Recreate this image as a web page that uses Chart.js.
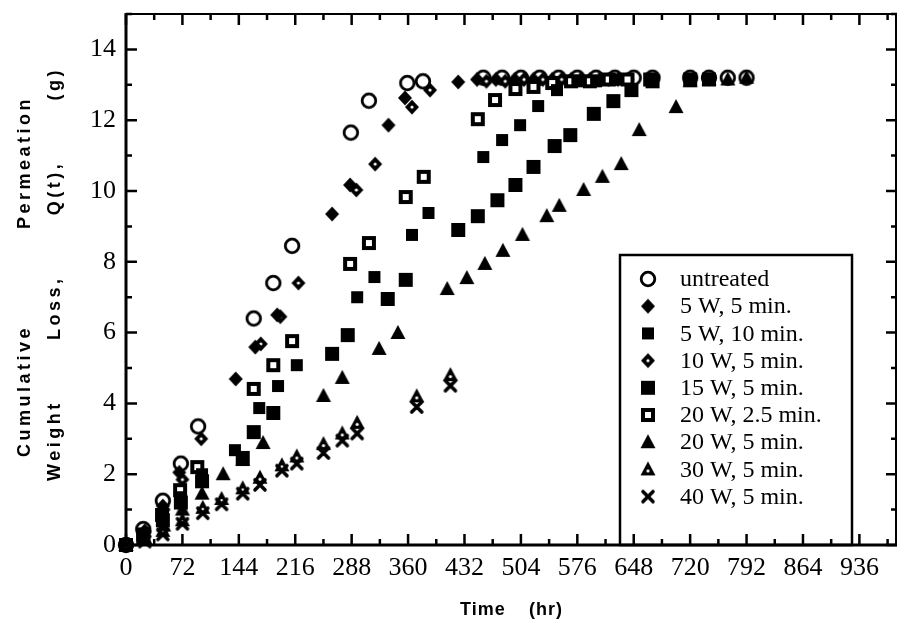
<!DOCTYPE html>
<html>
<head>
<meta charset="utf-8">
<script src="https://cdn.jsdelivr.net/npm/chart.js@4/dist/chart.umd.min.js"></script>
<style>
  html, body { margin: 0; padding: 0; background: #fff; }
  #wrap { width: 898px; height: 638px; }
</style>
</head>
<body>
<div id="wrap"><canvas id="permChart" width="898" height="638"></canvas></div>
<script>
// time (hr) and cumulative weight loss Q(t) (g)
const untreatedT = [0, 22, 47, 70, 92, 163, 188, 212, 287, 310, 359, 379, 456, 480, 504, 528, 552, 576, 600, 624, 648, 672, 720, 744, 768, 792];
const untreatedQ = [0, 0.45, 1.25, 2.3, 3.35, 6.4, 7.4, 8.45, 11.65, 12.55, 13.05, 13.1, 13.2, 13.2, 13.2, 13.2, 13.2, 13.2, 13.2, 13.2, 13.2, 13.2, 13.2, 13.2, 13.2, 13.2];

const w5m5T = [0, 24, 47, 68, 140, 165, 193, 263, 286, 335, 356, 424, 448, 472, 496, 520, 544, 568, 592, 616, 640];
const w5m5Q = [0, 0.4, 1.1, 2.05, 4.69, 5.59, 6.5, 9.35, 10.17, 11.86, 12.63, 13.08, 13.15, 13.15, 13.15, 13.15, 13.15, 13.15, 13.15, 13.15, 13.15];

const w5m10T = [0, 22, 47, 70, 97, 139, 170, 194, 218, 295, 317, 365, 386, 456, 480, 503, 526, 550, 576, 600, 624];
const w5m10Q = [0, 0.25, 0.8, 1.35, 2.0, 2.68, 3.87, 4.49, 5.08, 7.0, 7.57, 8.76, 9.38, 10.96, 11.44, 11.86, 12.4, 12.85, 13.1, 13.1, 13.15];

const w10m5T = [0, 24, 48, 72, 96, 172, 197, 220, 294, 318, 365, 388, 460, 484, 508, 532, 556, 580, 604, 628];
const w10m5Q = [0, 0.35, 1.0, 1.85, 3.0, 5.68, 6.45, 7.4, 10.03, 10.76, 12.37, 12.85, 13.1, 13.1, 13.15, 13.15, 13.15, 13.15, 13.15, 13.15];

const w15m5T = [0, 22, 47, 70, 97, 149, 163, 188, 263, 283, 334, 357, 424, 449, 474, 497, 520, 547, 567, 597, 622, 645, 672, 720, 744];
const w15m5Q = [0, 0.2, 0.7, 1.2, 1.8, 2.46, 3.19, 3.73, 5.4, 5.93, 6.95, 7.49, 8.9, 9.29, 9.74, 10.17, 10.68, 11.27, 11.58, 12.18, 12.54, 12.85, 13.1, 13.15, 13.15];

const w20m25T = [0, 22, 46, 69, 91, 163, 188, 212, 286, 310, 357, 380, 449, 471, 497, 520, 544, 568, 592, 616, 640, 669];
const w20m25Q = [0, 0.3, 0.85, 1.55, 2.2, 4.41, 5.08, 5.76, 7.94, 8.53, 9.83, 10.4, 12.03, 12.57, 12.88, 12.94, 13.05, 13.1, 13.1, 13.15, 13.15, 13.15];

const w20m5T = [0, 24, 48, 72, 97, 124, 149, 175, 252, 276, 323, 347, 410, 435, 458, 481, 506, 537, 553, 584, 608, 632, 655, 702, 720, 744, 768, 792];
const w20m5Q = [0, 0.2, 0.55, 1.0, 1.45, 2.0, 2.4, 2.88, 4.21, 4.72, 5.54, 5.99, 7.23, 7.54, 7.94, 8.31, 8.76, 9.29, 9.58, 10.03, 10.4, 10.76, 11.72, 12.37, 13.1, 13.15, 13.15, 13.2];

const w30m5T = [0, 24, 47, 72, 98, 122, 149, 171, 199, 218, 252, 276, 295, 371, 414];
const w30m5Q = [0, 0.15, 0.4, 0.7, 1.05, 1.3, 1.6, 1.9, 2.25, 2.5, 2.85, 3.15, 3.45, 4.2, 4.8];

const w40m5T = [0, 24, 47, 72, 98, 122, 149, 171, 199, 218, 252, 276, 295, 371, 414];
const w40m5Q = [0, 0.1, 0.3, 0.6, 0.9, 1.15, 1.45, 1.7, 2.1, 2.3, 2.6, 2.95, 3.15, 3.9, 4.5];

const seriesLabels = ['untreated', '5 W, 5 min.', '5 W, 10 min.', '10 W, 5 min.', '15 W, 5 min.', '20 W, 2.5 min.', '20 W, 5 min.', '30 W, 5 min.', '40 W, 5 min.'];
const xTicks = [0, 72, 144, 216, 288, 360, 432, 504, 576, 648, 720, 792, 864, 936];
const yTicks = [0, 2, 4, 6, 8, 10, 12, 14];
const xTitle = ['Time', '(hr)'];
const yTitle1 = ['Cumulative', 'Permeation'];
const yTitle2 = ['Weight', 'Loss,', 'Q(t),', '(g)'];

// marker glyphs drawn once on small canvases
function marker(kind) {
  const c = document.createElement('canvas');
  c.width = 20; c.height = 20;
  const g = c.getContext('2d');
  const m = 10;
  g.fillStyle = '#000';
  g.strokeStyle = '#000';
  const poly = pts => {
    g.beginPath();
    g.moveTo(pts[0][0], pts[0][1]);
    for (let i = 1; i < pts.length; i++) g.lineTo(pts[i][0], pts[i][1]);
    g.closePath();
    g.fill();
  };
  const dot = (x, y) => {
    g.fillStyle = '#fff';
    g.beginPath(); g.arc(x, y, 1.6, 0, Math.PI * 2); g.fill();
  };
  switch (kind) {
    case 'circle':
      g.lineWidth = 2.8;
      g.beginPath(); g.arc(m, m, 6.8, 0, Math.PI * 2);
      g.fillStyle = '#fff'; g.fill(); g.stroke();
      break;
    case 'diamond':
      poly([[m, m - 7.5], [m + 7, m], [m, m + 7.5], [m - 7, m]]);
      break;
    case 'diamondDot':
      poly([[m, m - 7.5], [m + 7, m], [m, m + 7.5], [m - 7, m]]);
      dot(m, m);
      break;
    case 'square':
      g.fillRect(m - 6, m - 6, 12, 12);
      break;
    case 'squareBig':
      g.fillRect(m - 7, m - 7, 14, 14);
      break;
    case 'squareOpen':
      g.fillRect(m - 7, m - 7, 14, 14);
      g.fillStyle = '#fff';
      g.fillRect(m - 3, m - 3, 6, 6);
      break;
    case 'triangle':
      poly([[m, m - 8], [m + 7.5, m + 6], [m - 7.5, m + 6]]);
      break;
    case 'triangleDot':
      poly([[m, m - 8], [m + 7.5, m + 6], [m - 7.5, m + 6]]);
      dot(m, m + 1.5);
      break;
    case 'cross':
      g.lineWidth = 3.6;
      g.lineCap = 'round';
      g.beginPath();
      g.moveTo(m - 5, m - 5); g.lineTo(m + 5, m + 5);
      g.moveTo(m + 5, m - 5); g.lineTo(m - 5, m + 5);
      g.stroke();
      break;
  }
  return c;
}

const markerKinds = ['circle', 'diamond', 'square', 'diamondDot', 'squareBig', 'squareOpen', 'triangle', 'triangleDot', 'cross'];
const markers = markerKinds.map(marker);

const seriesT = [untreatedT, w5m5T, w5m10T, w10m5T, w15m5T, w20m25T, w20m5T, w30m5T, w40m5T];
const seriesQ = [untreatedQ, w5m5Q, w5m10Q, w10m5Q, w15m5Q, w20m25Q, w20m5Q, w30m5Q, w40m5Q];

// draw order: open markers last so they stay visible
const drawOrder = [8, 7, 6, 4, 2, 5, 1, 3, 0];

const datasets = drawOrder.map(i => ({
  label: seriesLabels[i],
  data: seriesT[i].map((t, k) => ({ x: t, y: seriesQ[i][k] })),
  pointStyle: markers[i],
  pointRadius: 8,
  pointHoverRadius: 8,
  showLine: false,
  clip: false
}));

const serif = '"Liberation Serif", "Times New Roman", serif';
const sans = '"Liberation Sans", Arial, sans-serif';

// lay words out between two points along a line, with letter spacing
function spreadWords(ctx, words, from, to, y, ls) {
  ctx.letterSpacing = ls + 'px';
  const widths = words.map(w => ctx.measureText(w).width);
  const used = widths.reduce((a, b) => a + b, 0);
  const gap = words.length > 1 ? (to - from - used) / (words.length - 1) : 0;
  let x = from;
  words.forEach((w, i) => {
    ctx.fillText(w, x, y);
    x += widths[i] + gap;
  });
  ctx.letterSpacing = '0px';
}

// axis titles in spaced bold sans, as in the original figure
const axisTitles = {
  id: 'axisTitles',
  afterDraw(chart) {
    const ctx = chart.ctx;
    ctx.save();
    ctx.fillStyle = '#000';
    ctx.font = 'bold 18px ' + sans;
    ctx.textAlign = 'left';
    ctx.textBaseline = 'middle';
    spreadWords(ctx, xTitle, 460, 563, 610, 1);
    ctx.rotate(-Math.PI / 2);
    // rotated frame: x runs upward as -screenY
    spreadWords(ctx, yTitle1, -457, -96, 25, 3.5);
    spreadWords(ctx, yTitle2, -481, -67, 55, 3.5);
    ctx.restore();
  }
};

// boxed legend in the lower right of the plot
const boxLegend = {
  id: 'boxLegend',
  afterDatasetsDraw(chart) {
    const ctx = chart.ctx;
    const bottom = chart.chartArea.bottom;
    const x0 = 620, y0 = 255, x1 = 852;
    ctx.save();
    ctx.fillStyle = '#fff';
    ctx.fillRect(x0, y0, x1 - x0, bottom - y0);
    ctx.strokeStyle = '#000';
    ctx.lineWidth = 2.5;
    ctx.strokeRect(x0, y0, x1 - x0, bottom - y0);
    ctx.font = '24px ' + serif;
    ctx.fillStyle = '#000';
    ctx.textBaseline = 'middle';
    seriesLabels.forEach((lab, i) => {
      const y = 279 + i * 27.2;
      const mk = markers[i];
      ctx.drawImage(mk, 648 - mk.width / 2, y - mk.height / 2);
      ctx.fillText(lab, 680, y + 1);
    });
    ctx.restore();
  }
};

// frame with inward ticks on all four sides
const frameTicks = {
  id: 'frameTicks',
  afterDraw(chart) {
    const ctx = chart.ctx;
    const { left, right, top, bottom } = chart.chartArea;
    const xs = chart.scales.x, ys = chart.scales.y;
    ctx.save();
    ctx.strokeStyle = '#000';
    ctx.lineCap = 'butt';
    ctx.lineWidth = 2;
    ctx.beginPath();
    ctx.moveTo(left, top); ctx.lineTo(right - 1, top); ctx.lineTo(right - 1, bottom);
    ctx.stroke();
    ctx.lineWidth = 3;
    ctx.beginPath();
    ctx.moveTo(left, top - 1); ctx.lineTo(left, bottom);
    ctx.lineTo(right, bottom);
    ctx.stroke();
    ctx.lineWidth = 2.5;
    ctx.beginPath();
    for (let v = 0; v <= xs.max; v += 36) {
      const px = xs.getPixelForValue(v);
      const len = v % 72 === 0 ? 11 : 6;
      ctx.moveTo(px, bottom); ctx.lineTo(px, bottom - len);
      ctx.moveTo(px, top); ctx.lineTo(px, top + len);
    }
    for (let v = 0; v <= ys.max; v += 1) {
      const py = ys.getPixelForValue(v);
      const len = v % 2 === 0 ? 11 : 6;
      ctx.moveTo(left, py); ctx.lineTo(left + len, py);
      ctx.moveTo(right, py); ctx.lineTo(right - len, py);
    }
    ctx.stroke();
    ctx.restore();
  }
};

new Chart(document.getElementById('permChart'), {
  type: 'scatter',
  data: { datasets },
  options: {
    responsive: false,
    animation: false,
    events: [],
    layout: { autoPadding: false, padding: { top: 14, right: 1, bottom: 0, left: 0 } },
    plugins: {
      legend: { display: false },
      tooltip: { enabled: false }
    },
    scales: {
      x: {
        type: 'linear',
        min: 0,
        max: 984,
        afterBuildTicks: s => { s.ticks = xTicks.map(v => ({ value: v })); },
        afterFit: s => { s.height = 93; s.paddingLeft = 0; s.paddingRight = 0; },
        ticks: {
          autoSkip: false,
          maxRotation: 0,
          padding: 8,
          color: '#000',
          font: { family: serif, size: 26 }
        },
        grid: { display: false, drawTicks: false },
        border: { display: false }
      },
      y: {
        type: 'linear',
        min: 0,
        max: 15,
        afterBuildTicks: s => { s.ticks = yTicks.map(v => ({ value: v })); },
        afterFit: s => { s.width = 126; s.paddingTop = 0; s.paddingBottom = 0; },
        ticks: {
          padding: 10,
          color: '#000',
          font: { family: serif, size: 26 }
        },
        grid: { display: false, drawTicks: false },
        border: { display: false }
      }
    }
  },
  plugins: [boxLegend, frameTicks, axisTitles]
});
</script>
</body>
</html>
